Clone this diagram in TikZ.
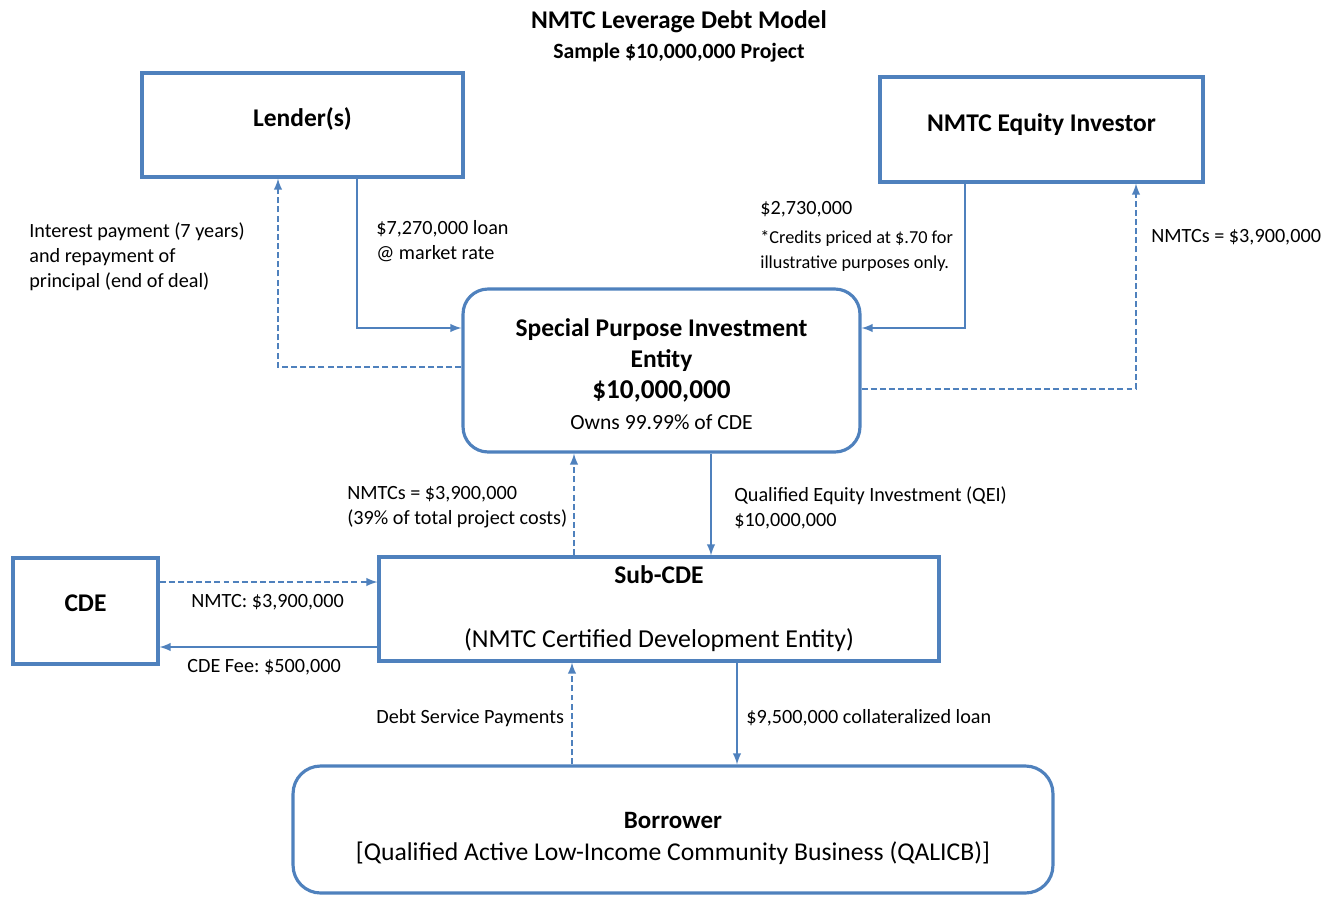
\documentclass[tikz,border=0pt]{standalone}
\usepackage{fontspec}
\setmainfont{Carlito}
\usepackage{tikz}
\usetikzlibrary{arrows,calc,positioning}
\definecolor{boxblue}{HTML}{4F81BD}
\frenchspacing

\begin{document}
\begin{tikzpicture}[x=0.02cm,y=-0.02cm,
  box/.style={draw=boxblue,line width=1.8pt,align=center,inner sep=0pt},
  roundbox/.style={box,rounded corners=0.5cm},
  flow/.style={draw=boxblue,line width=1.15pt,-latex},
  back/.style={flow,dash pattern=on 3.4pt off 1.8pt},
  note/.style={inner sep=0pt,align=left,anchor=west,font=\fontsize{11.5}{14.2}\selectfont},
  head/.style={font=\bfseries\fontsize{14.5}{17}\selectfont}]
\useasboundingbox (0,0) rectangle (1324,896);
%Titel
\node[font=\bfseries\fontsize{14.5}{17}\selectfont] (title) at (679,22) {NMTC Leverage Debt Model};
\node[font=\bfseries\fontsize{12.4}{14}\selectfont] (subtitle) at (679,53) {Sample \$10,000,000 Project};
%Kaesten
\node[box,head,minimum width=6.42cm,minimum height=2.08cm,text height=0.4cm,text depth=0.36cm] (lender) at (302.5,125) {Lender(s)};
\node[box,head,minimum width=6.46cm,minimum height=2.1cm,text height=0.4cm,text depth=0.34cm] (investor) at (1041.5,129.5) {NMTC Equity Investor};
\node[roundbox,minimum width=7.94cm,minimum height=3.26cm,font=\fontsize{14.5}{17.7}\selectfont] (spie) at (661.5,370.5)
  {\rule{0pt}{0.5cm}\bfseries Special Purpose Investment\\
   \bfseries Entity\\
   \bfseries\fontsize{15.5}{17.7}\selectfont \$10,000,000\\
   \fontsize{12.3}{17.7}\selectfont Owns 99.99\% of CDE};
\node[box,minimum width=11.2cm,minimum height=2.08cm,font=\fontsize{14.7}{17}\selectfont] (subcde) at (659,609)
  {\bfseries\fontsize{14.5}{17}\selectfont Sub-CDE\\[0.68cm]
   (NMTC Certified Development Entity)};
\node[box,head,minimum width=2.9cm,minimum height=2.12cm,text height=0.4cm,text depth=0.4cm] (cde) at (85.5,611) {CDE};
\node[roundbox,rounded corners=0.55cm,minimum width=15.2cm,minimum height=2.54cm,font=\fontsize{14.6}{18}\selectfont] (borrower) at (673,829.5)
  {\rule{0pt}{0.68cm}\bfseries\fontsize{14.2}{18}\selectfont Borrower\\
   {[}Qualified Active Low-Income Community Business (QALICB){]}};
%Knickpunkte
\coordinate (loanx) at (357,328);
\coordinate (intx) at (278,367);
\coordinate (eqx) at (965,328);
\coordinate (crx) at (1136,389);
\coordinate (qeix) at (711,0);
\coordinate (nmtcx) at (574,0);
\coordinate (dsx) at (572,0);
\coordinate (cdein) at (0,582);
\coordinate (cdeout) at (0,647);
\coordinate (bloanx) at (737,0);
%Pfeile
\draw[flow] (lender.south -| loanx) |- (spie.west |- loanx);
\draw[back] (spie.west |- intx) -| (lender.south -| intx);
\draw[flow] (investor.south -| eqx) |- (spie.east |- eqx);
\draw[back] (spie.east |- crx) -| (investor.south -| crx);
\draw[flow] (spie.south -| qeix) -- (subcde.north -| qeix);
\draw[back] (subcde.north -| nmtcx) -- (spie.south -| nmtcx);
\draw[back] (cde.east |- cdein) -- (subcde.west |- cdein);
\draw[flow] (subcde.west |- cdeout) -- (cde.east |- cdeout);
\draw[flow] (subcde.south -| bloanx) -- (borrower.north -| bloanx);
\draw[back] (borrower.north -| dsx) -- (subcde.south -| dsx);
%Beschriftungen
\node[note] (intlabel) at (29,257) {Interest payment (7 years)\\and repayment of\\principal (end of deal)};
\node[note] (loanlabel) at (376,241.5) {\$7,270,000 loan\\@ market rate};
\node[note] (eqlabel) at (760,236.5) {\$2,730,000\\[2.5pt]\fontsize{10.4}{12.5}\selectfont *Credits priced at \$.70 for\\\fontsize{10.4}{12.5}\selectfont illustrative purposes only.};
\node[note] (crlabel) at (1151,237) {NMTCs = \$3,900,000};
\node[note] (nmtclabel) at (347,507.5) {NMTCs = \$3,900,000\\(39\% of total project costs)};
\node[note] (qeilabel) at (734,507.5) {Qualified Equity Investment (QEI)\\\$10,000,000};
\node[note] (cdeinlabel) at (191,602) {NMTC: \$3,900,000};
\node[note] (feelabel) at (187,667) {CDE Fee: \$500,000};
\node[note] (dslabel) at (376,718) {Debt Service Payments};
\node[note] (bloanlabel) at (746,718) {\$9,500,000 collateralized loan};
\end{tikzpicture}
\end{document}
